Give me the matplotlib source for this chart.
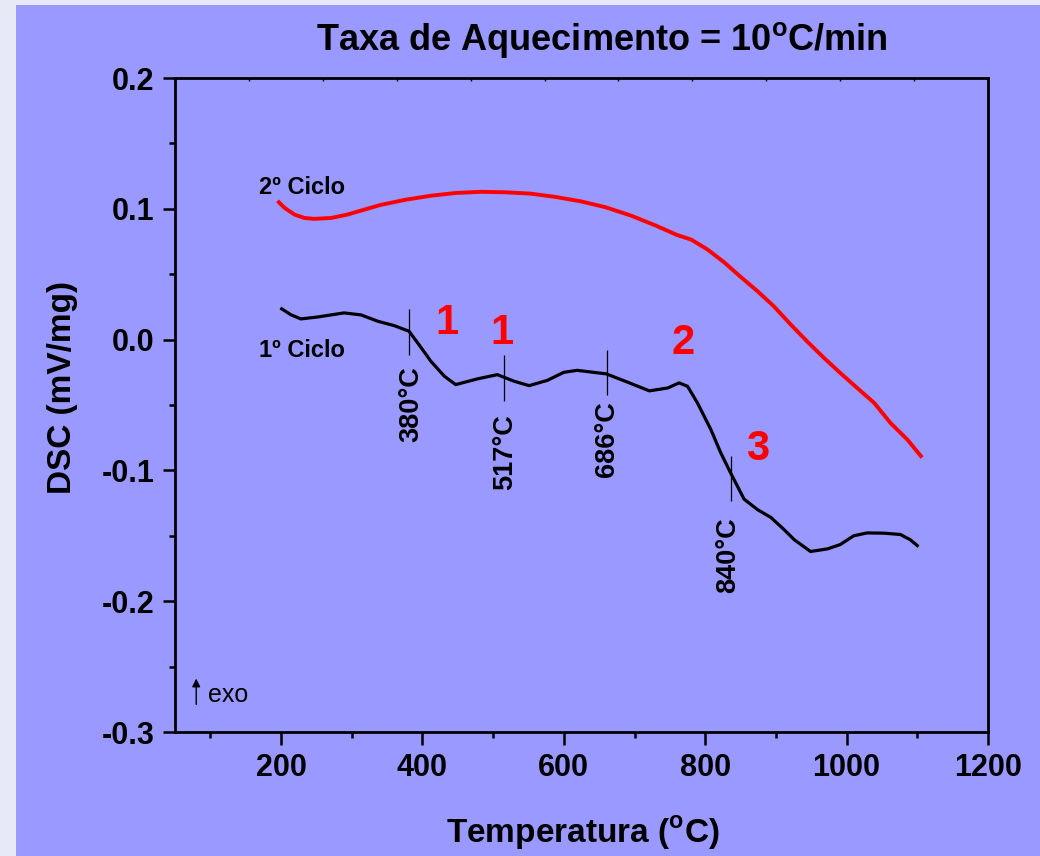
# %%
## Imports ##

import matplotlib

matplotlib.use("Agg")
import matplotlib.pyplot as plt
from matplotlib.patches import Rectangle
from matplotlib import ticker

plt.rcParams["font.family"] = ["Liberation Sans", "DejaVu Sans"]
plt.rcParams["mathtext.fontset"] = "custom"
plt.rcParams["mathtext.rm"] = "Liberation Sans"
plt.rcParams["mathtext.bf"] = "Liberation Sans:bold"
plt.rcParams["axes.unicode_minus"] = False


# %%
## Data ##

# 1o ciclo (black)
temp_ciclo1 = [201, 214, 228, 252, 289, 313, 337, 360, 381, 395, 412, 431,
               447, 478, 506, 530, 551, 577, 600, 619, 660, 690, 721, 747,
               763, 775, 789, 808, 822, 836, 855, 874, 893, 911, 926, 949,
               973, 991, 1010, 1029, 1053, 1076, 1090, 1100]
dsc_ciclo1 = [0.0235, 0.019, 0.0158, 0.0173, 0.0204, 0.0189, 0.014, 0.0107,
              0.0064, -0.0038, -0.0166, -0.028, -0.0344, -0.030, -0.0268,
              -0.0319, -0.0352, -0.0311, -0.025, -0.0235, -0.0262, -0.0325,
              -0.0392, -0.037, -0.0331, -0.0357, -0.0484, -0.0688, -0.0866,
              -0.102, -0.122, -0.130, -0.136, -0.145, -0.153, -0.162, -0.160,
              -0.1567, -0.150, -0.1478, -0.148, -0.149, -0.153, -0.1575]

# 2o ciclo (red)
temp_ciclo2 = [197, 205, 219, 233, 247, 271, 294, 318, 341, 377, 412, 447,
               483, 518, 553, 589, 624, 659, 695, 730, 760, 780, 803, 827,
               850, 874, 897, 921, 944, 968, 991, 1015, 1039, 1062, 1086, 1105]
dsc_ciclo2 = [0.105, 0.1007, 0.0956, 0.093, 0.0923, 0.093, 0.0956, 0.0994,
              0.103, 0.107, 0.110, 0.1121, 0.113, 0.1126, 0.1116, 0.109,
              0.1057, 0.1012, 0.0948, 0.0872, 0.080, 0.0765, 0.069, 0.059,
              0.048, 0.037, 0.0255, 0.0115, -0.0013, -0.014, -0.0255, -0.037,
              -0.0484, -0.0637, -0.0765, -0.089]

# transition markers
marker_temps = [381, 515, 661, 836]
marker_top = [0.0237, -0.0115, -0.0076, -0.0887]
marker_bottom = [-0.0115, -0.0466, -0.042, -0.1236]
marker_labels = ["380°C", "517°C", "686°C", "840°C"]
marker_label_x = [384, 517, 661, 833]
marker_label_y = [-0.0206, -0.0573, -0.0474, -0.136]

# red event numbers
event_labels = ["1", "1", "2", "3"]
event_x = [435, 513, 768, 874]
event_y = [0.0128, 0.0053, -0.0025, -0.084]

x_ticks = [200, 400, 600, 800, 1000, 1200]
y_ticks = [-0.3, -0.2, -0.1, 0.0, 0.1, 0.2]


# %%
## Plot ##

bg_color = "#9999FF"

fig = plt.figure(figsize=(10.4, 8.56), dpi=100)
fig.patch.set_facecolor(bg_color)

# pale strips at the left and top edge (outside the slide panel)
fig.patches.append(
    Rectangle((0, 0), 16 / 1040, 1, transform=fig.transFigure,
              facecolor="#E7E9F6", edgecolor="none", zorder=-10)
)
fig.patches.append(
    Rectangle((0, 1 - 5 / 856), 1, 5 / 856, transform=fig.transFigure,
              facecolor="#E7E9F6", edgecolor="none", zorder=-10)
)

ax = fig.add_axes([175 / 1040, 1 - 732 / 856, 813 / 1040, 654 / 856])
ax.set_facecolor(bg_color)

ax.plot(temp_ciclo1, dsc_ciclo1, color="black", lw=2.3,
        solid_joinstyle="round")
ax.plot(temp_ciclo2, dsc_ciclo2, color="#FF0000", lw=2.8,
        solid_joinstyle="round")

ax.vlines(marker_temps, marker_bottom, marker_top, color="black", lw=0.9)
for lab, x, y in zip(marker_labels, marker_label_x, marker_label_y):
    ax.text(x, y, lab, rotation=90, ha="center", va="top",
            fontsize=19.5, fontweight="bold")

for lab, x, y in zip(event_labels, event_x, event_y):
    ax.text(x, y, lab, ha="center", va="center", fontsize=30,
            fontweight="bold", color="#FF0000")

ax.text(169, 0.116, "2º Ciclo", ha="left", va="center",
        fontsize=17, fontweight="bold")
ax.text(169, -0.0084, "1º Ciclo", ha="left", va="center",
        fontsize=17, fontweight="bold")

# exo arrow
ax.annotate("", xy=(80, -0.257), xytext=(80, -0.281),
            arrowprops=dict(arrowstyle="-|>", color="black", lw=1.0,
                            mutation_scale=12))
ax.text(97, -0.272, "exo", ha="left", va="center", fontsize=18)

ax.set_xlim(50, 1200)
ax.set_ylim(-0.3, 0.2)
ax.set_xticks(x_ticks)
ax.set_yticks(y_ticks)
ax.xaxis.set_minor_locator(ticker.MultipleLocator(100))
ax.yaxis.set_minor_locator(ticker.MultipleLocator(0.05))
ax.yaxis.set_major_formatter(ticker.FormatStrFormatter("%.1f"))

ax.tick_params(which="major", direction="out", length=9, width=1.8,
               labelsize=22, pad=6)
ax.tick_params(which="minor", direction="out", length=4.5, width=1.8)
for lbl in ax.get_xticklabels() + ax.get_yticklabels():
    lbl.set_fontweight("bold")
for sp in ax.spines.values():
    sp.set_linewidth(2)

# small inner ticks on the top axis
ax_top = ax.twiny()
ax_top.set_xlim(0, 11)
ax_top.set_xticks(range(12))
ax_top.tick_params(axis="x", direction="in", length=2.5, width=1,
                   labeltop=False)
for sp in ax_top.spines.values():
    sp.set_visible(False)

fig.text(602 / 1040, 1 - 40 / 856,
         "Taxa de Aquecimento = 10$^{\\mathbf{o}}$C/min",
         ha="center", va="center", fontsize=26, fontweight="bold")
fig.text(583 / 1040, 1 - 833 / 856, "Temperatura ($^{\\mathbf{o}}$C)",
         ha="center", va="center", fontsize=24, fontweight="bold")
fig.text(63 / 1040, 1 - 388 / 856, "DSC (mV/mg)", rotation=90,
         ha="center", va="center", fontsize=24, fontweight="bold")

fig.savefig("out.png", dpi=100, facecolor=fig.get_facecolor())
